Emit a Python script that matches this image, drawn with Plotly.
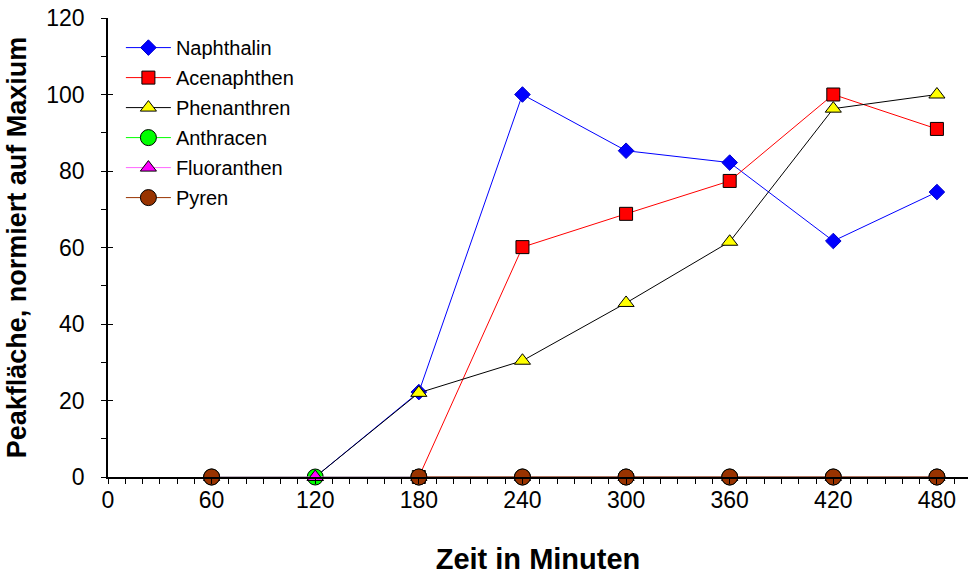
import plotly.graph_objects as go

# Sampling times (minutes)
zeit = [60, 120, 180, 240, 300, 360, 420, 480]

# Peak areas normalised to each compound's maximum (%)
naphthalin = [None, 0, 22.2, 100, 85.3, 82.2, 61.7, 74.5]
acenaphthen = [None, None, 0, 60.1, 68.8, 77.4, 100, 91.0]
phenanthren = [None, 0, 22.0, 30.4, 45.5, 61.5, 96.3, 100]
anthracen = [0, 0, 0, 0, 0, 0, 0, 0]
fluoranthen = [0, 0, 0, 0, 0, 0, 0, 0]
pyren = [0, None, 0, 0, 0, 0, 0, 0]

x_ticks = [0, 60, 120, 180, 240, 300, 360, 420, 480]
y_ticks = [0, 20, 40, 60, 80, 100, 120]

FONT = "Arial, Liberation Sans, sans-serif"

series = [
    ("Naphthalin", naphthalin, "#0000FF", "#0000FF", "diamond", 12, "#0000CC"),
    ("Acenaphthen", acenaphthen, "#FF0000", "#FF0000", "square", 13, "#000000"),
    ("Phenanthren", phenanthren, "#000000", "#FFFF00", "triangle-up", 14, "#000000"),
    ("Anthracen", anthracen, "#00FF00", "#00FF00", "circle", 16, "#000000"),
    ("Fluoranthen", fluoranthen, "#FF66FF", "#FF00FF", "triangle-up", 14, "#000000"),
    ("Pyren", pyren, "#993300", "#993300", "circle", 16, "#000000"),
]

fig = go.Figure()
for i, (name, vals, lcol, fcol, sym, size, ocol) in enumerate(series):
    fig.add_trace(go.Scatter(
        x=zeit, y=vals, name=name, mode="lines+markers",
        line=dict(color=lcol, width=1),
        marker=dict(symbol=sym, size=size, color=fcol,
                    line=dict(color=ocol, width=1)),
        cliponaxis=False, legendgroup=f"g{i}",
    ))

# Overlay axes carrying the inner half of the crossing major ticks
fig.add_trace(go.Scatter(x=[], y=[], xaxis="x2", yaxis="y2",
                         showlegend=False, hoverinfo="skip"))

X_RANGE = [0, 498]
Y_RANGE = [0, 120]

fig.update_layout(
    width=968, height=575,
    margin=dict(l=108, r=0, t=18, b=98),
    paper_bgcolor="white", plot_bgcolor="white",
    font=dict(family=FONT, size=23, color="black"),
    showlegend=True,
    legend=dict(
        x=0.015, y=0.978, xanchor="left", yanchor="top",
        bgcolor="rgba(0,0,0,0)", borderwidth=0,
        font=dict(family=FONT, size=20, color="black"),
        itemwidth=45, tracegroupgap=1,
    ),
    xaxis=dict(
        range=X_RANGE, tickmode="array", tickvals=x_ticks,
        ticktext=[str(v) for v in x_ticks],
        showgrid=False, zeroline=False,
        showline=True, linecolor="black", linewidth=1.5,
        ticks="outside", ticklen=5, tickcolor="black", tickwidth=1,
        minor=dict(dtick=10, tick0=0, ticks="outside", ticklen=5,
                   tickcolor="black", tickwidth=1, showgrid=False),
        tickfont=dict(family=FONT, size=23), ticklabelstandoff=-3,
        title=dict(text="<b>Zeit in Minuten</b>",
                   font=dict(family=FONT, size=29), standoff=38),
        anchor="y", automargin=False,
    ),
    yaxis=dict(
        range=Y_RANGE, tickmode="array", tickvals=y_ticks,
        ticktext=[str(v) for v in y_ticks],
        showgrid=False, zeroline=False,
        showline=True, linecolor="black", linewidth=1.5,
        ticks="outside", ticklen=5, tickcolor="black", tickwidth=1,
        minor=dict(dtick=10, tick0=0, ticks="outside", ticklen=5,
                   tickcolor="black", tickwidth=1, showgrid=False),
        tickfont=dict(family=FONT, size=23), ticklabelstandoff=12,
        title=dict(text="<b>Peakfläche, normiert auf Maxium</b>",
                   font=dict(family=FONT, size=27), standoff=12),
        anchor="x", automargin=False,
    ),
    xaxis2=dict(
        range=X_RANGE, overlaying="x", anchor="y2", visible=False,
    ),
    yaxis2=dict(
        range=Y_RANGE, overlaying="y", anchor="x2", side="left",
        tickmode="array", tickvals=y_ticks, showticklabels=False,
        showgrid=False, zeroline=False, showline=False,
        ticks="inside", ticklen=5, tickcolor="black", tickwidth=1,
    ),
)

fig.write_html("out.html")
